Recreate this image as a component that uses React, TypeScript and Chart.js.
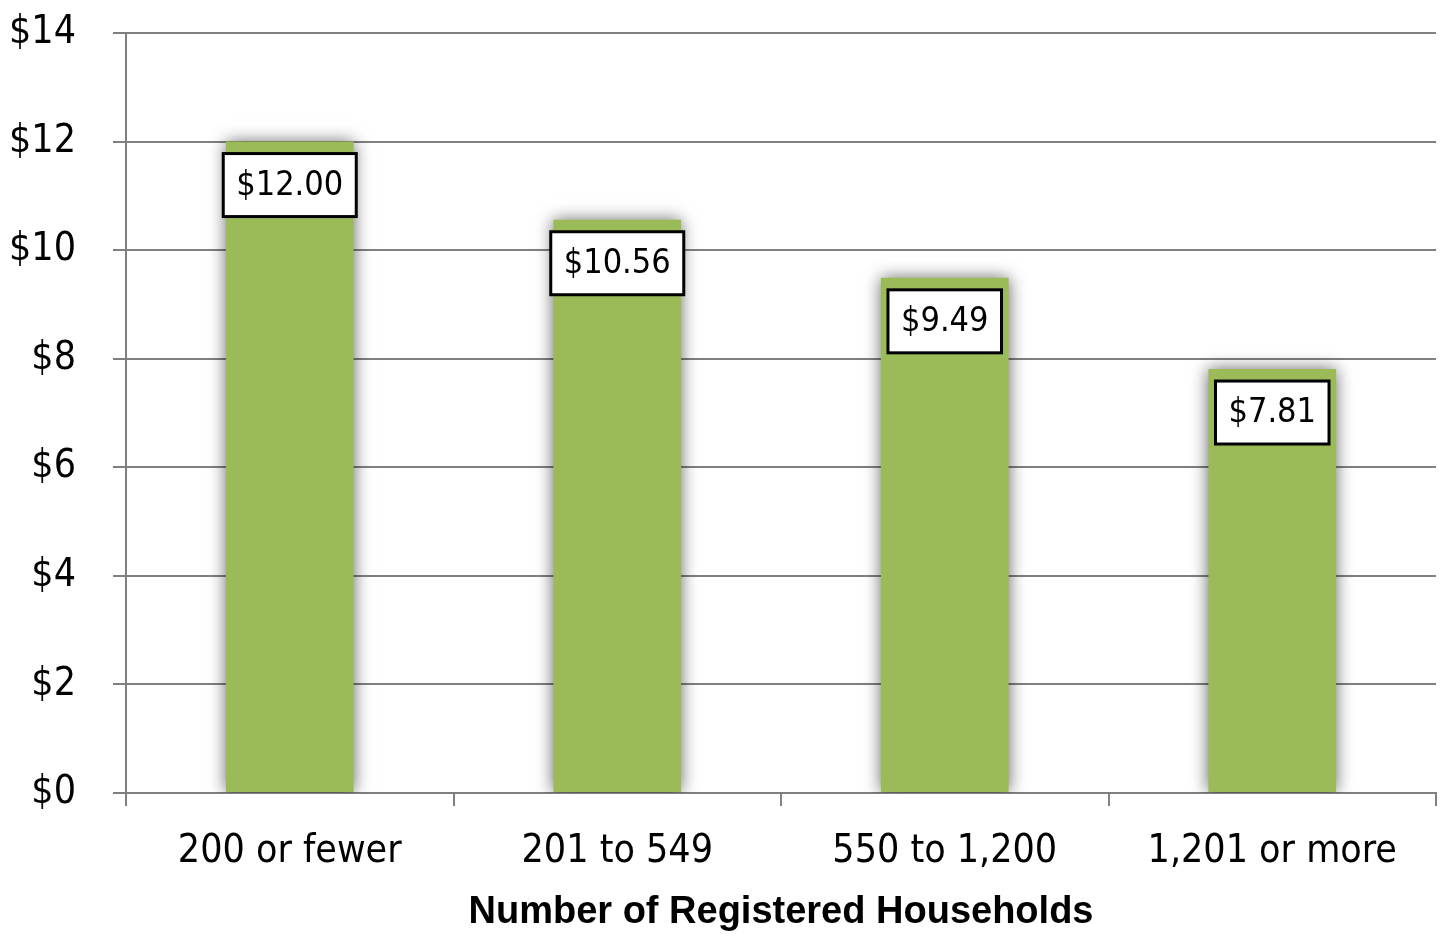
import React, { useEffect, useRef } from "react";
import { Chart, registerables } from "chart.js";

Chart.register(...registerables);

const categories = ["200 or fewer", "201 to 549", "550 to 1,200", "1,201 or more"];
const values = [12.0, 10.56, 9.49, 7.81];
const yTicks = [0, 2, 4, 6, 8, 10, 12, 14];
const xTitle = "Number of Registered Households";

const FONT = "'DejaVu Sans Condensed', 'DejaVu Sans', sans-serif";
const GRID = "#808080";

const shadowPlugin = {
  id: "barShadow",
  beforeDatasetsDraw(chart: any) {
    const ctx = chart.ctx;
    ctx.save();
    ctx.shadowColor = "rgba(0,0,0,0.6)";
    ctx.shadowBlur = 16;
    ctx.shadowOffsetX = 0;
    ctx.shadowOffsetY = 0;
  },
  afterDatasetsDraw(chart: any) {
    const ctx = chart.ctx;
    ctx.restore();
    const meta = chart.getDatasetMeta(0);
    ctx.save();
    ctx.font = `34px ${FONT}`;
    ctx.textAlign = "center";
    ctx.textBaseline = "middle";
    meta.data.forEach((bar: any, i: number) => {
      const text = "$" + values[i].toFixed(2);
      const tw = ctx.measureText(text).width;
      const w = tw + 26;
      const h = 63;
      const x = bar.x - w / 2;
      const y = bar.y + 12;
      ctx.fillStyle = "#ffffff";
      ctx.fillRect(x, y, w, h);
      ctx.lineWidth = 3;
      ctx.strokeStyle = "#000000";
      ctx.strokeRect(x, y, w, h);
      ctx.fillStyle = "#000000";
      ctx.fillText(text, bar.x, y + h / 2 + 1);
    });
    ctx.restore();
  },
};

export default function App() {
  const ref = useRef<HTMLCanvasElement>(null);
  useEffect(() => {
    document.body.style.margin = "0";
    const chart = new Chart(ref.current!, {
      type: "bar",
      data: {
        labels: categories,
        datasets: [
          {
            data: values,
            backgroundColor: "#9BBB59",
            borderWidth: 0,
            categoryPercentage: 1,
            barPercentage: 0.39,
          },
        ],
      },
      options: {
        animation: false,
        responsive: false,
        layout: { padding: { left: 0, right: 5, top: 33, bottom: 0 } },
        plugins: { legend: { display: false }, tooltip: { enabled: false } },
        scales: {
          x: {
            offset: true,
            grid: {
              offset: true,
              drawOnChartArea: false,
              drawTicks: true,
              tickLength: 13,
              color: GRID,
              lineWidth: 2,
            },
            border: { display: true, color: GRID, width: 2 },
            ticks: {
              color: "#000000",
              font: { family: FONT, size: 39 },
              padding: 22,
              maxRotation: 0,
            },
            title: {
              display: true,
              text: xTitle,
              color: "#000000",
              font: { family: "'Liberation Sans', Arial, sans-serif", size: 38, weight: "bold" },
              padding: { top: 0, bottom: 5 },
            },
            afterFit(scale: any) {
              scale.height = 147;
            },
          },
          y: {
            min: 0,
            max: 14,
            afterBuildTicks(scale: any) {
              scale.ticks = yTicks.map((v) => ({ value: v }));
            },
            grid: {
              color: GRID,
              lineWidth: 2,
              drawTicks: true,
              tickLength: 13,
            },
            border: { display: true, color: GRID, width: 2 },
            ticks: {
              color: "#000000",
              font: { family: FONT, size: 39 },
              padding: 37,
              callback: (v: any) => "$" + v,
            },
            afterFit(scale: any) {
              scale.width = 126;
              scale.paddingTop = 0;
              scale.paddingBottom = 0;
            },
          },
        },
      },
      plugins: [shadowPlugin],
    } as any);
    return () => chart.destroy();
  }, []);
  return (
    <div style={{ width: 1441, height: 940 }}>
      <canvas ref={ref} width={1441} height={940} style={{ display: "block" }} />
    </div>
  );
}
